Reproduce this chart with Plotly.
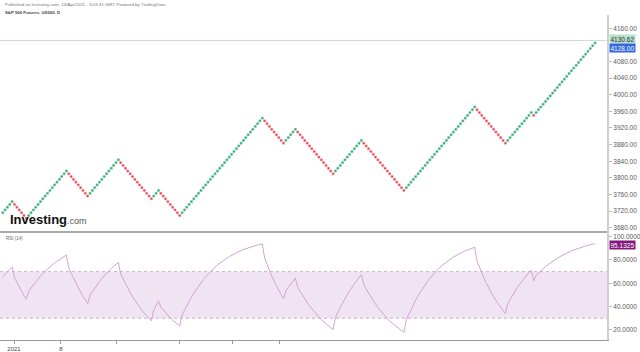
import plotly.graph_objects as go

# ---------------- data ----------------
box_size = 6.7                 # renko brick size (points)
first_open = 3712.6            # open (bottom) of the first, rising brick
# consecutive bricks: +n = n rising bricks, -n = n falling bricks
brick_runs = [5, -6, 17, -9, 13, -14, 3, -9, 35, -9, 5, -16, 12, -18, 30, -13, 11, -1, 26]
last_price = 4130.62
last_close = 4128.00
rsi_period = 14
rsi_start = 65.7               # RSI value read at the first brick
rsi_last_label = "95.1325"
price_ticks = [3680, 3720, 3760, 3800, 3840, 3880, 3920, 3960, 4000, 4040, 4080, 4160]
rsi_ticks = [20, 40, 60, 80, 100]
time_tick_pos = [4.8, 24.7, 48.4, 74.8, 97.2, 117.1]
time_tick_text = ["2021", "8", "", "", "", ""]
header_line1 = "Published on Investing.com, 14/Apr/2021 - 3:03:41 GMT, Powered by TradingView."
header_line2 = "S&P 500 Futures, US500, D"

# ---------------- renko construction ----------------
opens, closes, dirs = [], [], []
prev_open = prev_close = None
prev_dir = None
for run in brick_runs:
    d = 1 if run > 0 else -1
    for _ in range(abs(run)):
        if prev_dir is None:
            o = first_open
        elif d == prev_dir:
            o = prev_close
        else:
            o = prev_open
        c = o + d * box_size
        opens.append(o); closes.append(c); dirs.append(d)
        prev_open, prev_close, prev_dir = o, c, d

idx = list(range(len(closes)))
centers = [(o + c) / 2 for o, c in zip(opens, closes)]
up_x = [i for i in idx if dirs[i] > 0]
up_y = [centers[i] for i in idx if dirs[i] > 0]
dn_x = [i for i in idx if dirs[i] < 0]
dn_y = [centers[i] for i in idx if dirs[i] < 0]

# RSI (Wilder) on brick closes
avg_total = 1.1 * box_size
ag = avg_total * rsi_start / 100.0
al = avg_total - ag
rsi = [rsi_start]
for i in range(1, len(closes)):
    ch = closes[i] - closes[i - 1]
    g = max(ch, 0.0); l = max(-ch, 0.0)
    ag = (ag * (rsi_period - 1) + g) / rsi_period
    al = (al * (rsi_period - 1) + l) / rsi_period
    rsi.append(100.0 * ag / (ag + al))

# ---------------- layout geometry ----------------
W, H = 640, 352
ML, MR, MT, MB = 0, 33, 15, 12
plot_h = H - MT - MB
split_px = 232
split = (H - MB - split_px) / plot_h

def py(ypx):
    return (H - MB - ypx) / plot_h

fig = go.Figure()

# RSI band
fig.add_shape(type="rect", xref="x domain", yref="y2", x0=0, x1=1, y0=30, y1=70,
              fillcolor="#f1e4f2", line_width=0, layer="below")
for lvl in (30, 70):
    fig.add_shape(type="line", xref="x domain", yref="y2", x0=0, x1=1, y0=lvl, y1=lvl,
                  line=dict(color="#c7b3c8", width=1, dash="dot"), layer="below")

# last price line
fig.add_shape(type="line", xref="x domain", yref="y", x0=0, x1=1, y0=last_price, y1=last_price,
              line=dict(color="#c9d8f3", width=1), layer="below")

fig.add_trace(go.Scatter(x=up_x, y=up_y, mode="markers", yaxis="y",
                         marker=dict(symbol="square", size=2.1, color="#1a9d63",
                                     line=dict(color="#86d1ae", width=0.6)),
                         hoverinfo="skip", showlegend=False))
fig.add_trace(go.Scatter(x=dn_x, y=dn_y, mode="markers", yaxis="y",
                         marker=dict(symbol="square", size=2.1, color="#ee1b2e",
                                     line=dict(color="#f8a1a8", width=0.6)),
                         hoverinfo="skip", showlegend=False))
fig.add_trace(go.Scatter(x=idx, y=rsi, mode="lines", yaxis="y2",
                         line=dict(color="#d2a3d6", width=1),
                         hoverinfo="skip", showlegend=False))

px_per_brick = 2.36
x0_px = 2.7
x_lo = -x0_px / px_per_brick
x_hi = (W - MR - x0_px) / px_per_brick

tick_font = dict(family="Liberation Sans, Arial, sans-serif", size=6.5, color="#5a5a5a")

fig.update_layout(
    width=W, height=H,
    margin=dict(l=ML, r=MR, t=MT, b=MB, pad=0),
    paper_bgcolor="white", plot_bgcolor="white",
    showlegend=False,
    xaxis=dict(range=[x_lo, x_hi], showgrid=False, zeroline=False,
               showline=True, linecolor="#9a9a9a", linewidth=1,
               ticks="outside", ticklen=3, tickcolor="#9a9a9a", tickwidth=1,
               tickmode="array", tickvals=time_tick_pos, ticktext=time_tick_text,
               tickfont=dict(family="Liberation Sans, Arial, sans-serif", size=6, color="#444"),
               anchor="y2", automargin=False, fixedrange=True),
    yaxis=dict(domain=[split, 1], side="right", range=[3669.6, 4192],
               showgrid=False, zeroline=False, showline=True, linecolor="#cfcfcf", linewidth=2,
               ticks="outside", ticklen=3, tickcolor="#bbbbbb",
               tickmode="array", tickvals=price_ticks, tickformat=".2f",
               tickfont=tick_font, automargin=False, anchor="x"),
    yaxis2=dict(domain=[0, split], side="right", range=[11.3, 104],
                showgrid=False, zeroline=False, showline=True, linecolor="#cfcfcf", linewidth=2,
                ticks="outside", ticklen=3, tickcolor="#bbbbbb",
                tickmode="array", tickvals=rsi_ticks, tickformat=".4f",
                tickfont=tick_font, automargin=False, anchor="x"),
)

# pane separator
fig.add_shape(type="line", xref="paper", yref="paper", x0=0, x1=1, y0=split, y1=split,
              line=dict(color="#555555", width=1))

lab_font = "Liberation Sans, Arial, sans-serif"
ann = []
ann.append(dict(xref="paper", yref="paper", x=1, y=py(39.3), xanchor="left", yanchor="middle",
                xshift=2, text="%.2f" % last_price, showarrow=False, bgcolor="#b5e0c9",
                font=dict(family=lab_font, size=6.5, color="#333"), borderpad=0.5))
ann.append(dict(xref="paper", yref="paper", x=1, y=py(48.3), xanchor="left", yanchor="middle",
                xshift=2, text="%.2f" % last_close, showarrow=False, bgcolor="#3567e4",
                font=dict(family=lab_font, size=6.5, color="white"), borderpad=0.5))
ann.append(dict(xref="paper", yref="paper", x=1, y=py(245), xanchor="left", yanchor="middle",
                xshift=2, text=rsi_last_label, showarrow=False, bgcolor="#85187e",
                font=dict(family=lab_font, size=6.5, color="white"), borderpad=0.5))
ann.append(dict(xref="paper", yref="paper", x=3 / (W - MR), y=py(4.5), xanchor="left", yanchor="middle",
                text=header_line1, showarrow=False,
                font=dict(family=lab_font, size=4.4, color="#777")))
ann.append(dict(xref="paper", yref="paper", x=3 / (W - MR), y=py(13), xanchor="left", yanchor="middle",
                text="<b>" + header_line2 + "</b>", showarrow=False,
                font=dict(family=lab_font, size=4.3, color="#444")))
ann.append(dict(xref="paper", yref="paper", x=4 / (W - MR), y=py(238.5), xanchor="left", yanchor="middle",
                text="RSI (14)", showarrow=False,
                font=dict(family=lab_font, size=4.5, color="#666")))
ann.append(dict(xref="paper", yref="paper", x=8 / (W - MR), y=py(219), xanchor="left", yanchor="middle",
                text="<b>Investing</b><span style='font-size:9px;color:#555'>.com</span>", showarrow=False,
                font=dict(family=lab_font, size=13, color="#111")))
fig.update_layout(annotations=ann)

fig.write_html("out.html")
